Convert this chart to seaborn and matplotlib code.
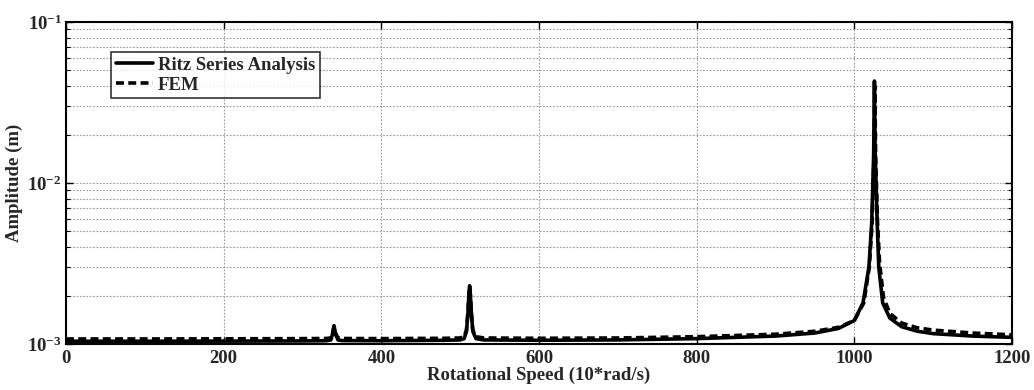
import numpy as np
import pandas as pd
import seaborn as sns
import matplotlib
matplotlib.use("Agg")
import matplotlib.pyplot as plt
from matplotlib.ticker import LogLocator, FixedLocator, NullFormatter

# ---- data ----
ritz_speed = [0, 100, 200, 300, 330, 336, 338, 340, 342, 345, 350, 400, 480, 500, 505,
              508, 510, 511, 512, 513, 514, 516, 520, 530, 600, 700, 800, 850, 900, 950,
              980, 1000, 1011, 1018.5, 1022, 1024.5, 1025.5, 1026.5, 1029, 1031, 1036,
              1045, 1060, 1080, 1100, 1150, 1200]
ritz_amp = [1.040e-3, 1.040e-3, 1.042e-3, 1.045e-3, 1.048e-3, 1.06e-3, 1.15e-3, 1.30e-3, 1.15e-3, 1.06e-3, 1.05e-3,
            1.048e-3, 1.055e-3, 1.06e-3, 1.08e-3,
            1.2e-3, 1.6e-3, 2.0e-3, 2.3e-3, 2.0e-3, 1.6e-3, 1.2e-3, 1.08e-3, 1.06e-3, 1.055e-3, 1.06e-3, 1.08e-3, 1.10e-3, 1.12e-3, 1.17e-3,
            1.25e-3, 1.40e-3, 1.8e-3, 3.0e-3, 5.6e-3, 1.5e-2, 4.3e-2, 1.5e-2, 5.6e-3, 3.0e-3, 1.8e-3,
            1.45e-3, 1.28e-3, 1.20e-3, 1.16e-3, 1.12e-3, 1.10e-3]

fem_speed = [0, 100, 200, 300, 330, 336, 338, 340, 342, 345, 350, 400, 480, 500, 505,
             508, 510, 511, 512, 513, 514, 516, 520, 530, 600, 700, 800, 850, 900, 950,
             980, 1000, 1012, 1019, 1022.5, 1025, 1026, 1027, 1029.5, 1032, 1037,
             1045, 1060, 1080, 1100, 1150, 1200]
fem_amp = [1.075e-3, 1.075e-3, 1.077e-3, 1.08e-3, 1.082e-3, 1.09e-3, 1.16e-3, 1.28e-3, 1.16e-3, 1.09e-3, 1.082e-3,
           1.08e-3, 1.085e-3, 1.09e-3, 1.11e-3,
           1.22e-3, 1.6e-3, 2.0e-3, 2.25e-3, 2.0e-3, 1.6e-3, 1.22e-3, 1.11e-3, 1.09e-3, 1.085e-3, 1.09e-3, 1.11e-3, 1.13e-3, 1.15e-3, 1.20e-3,
           1.27e-3, 1.40e-3, 1.8e-3, 3.0e-3, 5.6e-3, 1.5e-2, 4.0e-2, 1.5e-2, 5.6e-3, 3.2e-3, 1.95e-3,
           1.55e-3, 1.35e-3, 1.26e-3, 1.22e-3, 1.17e-3, 1.14e-3]

series_names = ["Ritz Series Analysis", "FEM"]
x_ticks = [0, 200, 400, 600, 800, 1000, 1200]

# ---- style ----
sns.set_theme(style="white")
plt.rcParams['font.family'] = ['Liberation Serif', 'DejaVu Serif']
plt.rcParams['font.weight'] = 'bold'
plt.rcParams['mathtext.fontset'] = 'custom'
plt.rcParams['mathtext.rm'] = 'Liberation Serif:bold'
plt.rcParams['mathtext.bf'] = 'Liberation Serif:bold'
plt.rcParams['mathtext.it'] = 'Liberation Serif:bold'
plt.rcParams['mathtext.default'] = 'bf'

FS = 13.5

df = pd.concat([
    pd.DataFrame({"speed": ritz_speed, "amp": ritz_amp, "series": series_names[0]}),
    pd.DataFrame({"speed": fem_speed, "amp": fem_amp, "series": series_names[1]}),
])

fig = plt.figure(figsize=(10.34, 3.90), dpi=100)
ax = fig.add_axes([66/1034, 1-344/390, (1012-66)/1034, (344-22)/390])

sns.lineplot(data=df, x="speed", y="amp", style="series", style_order=series_names,
             dashes={series_names[0]: "", series_names[1]: (2.2, 1.2)},
             color="black", linewidth=2.6, ax=ax, legend=True, sort=False,
             estimator=None)

ax.set_yscale("log")
ax.set_xlim(0, 1200)
ax.set_ylim(1e-3, 1e-1)
ax.xaxis.set_major_locator(FixedLocator(x_ticks))
ax.yaxis.set_major_locator(LogLocator(base=10, numticks=10))
ax.yaxis.set_minor_locator(LogLocator(base=10, subs=np.arange(2, 10), numticks=20))
ax.yaxis.set_minor_formatter(NullFormatter())

ax.grid(True, which="major", axis="both", color="#999999", linestyle=(0, (1.5, 1.5)), linewidth=0.8)
ax.grid(True, which="minor", axis="y", color="#999999", linestyle=(0, (1.5, 1.5)), linewidth=0.8)

ax.tick_params(axis="both", which="both", direction="in", top=True, right=True,
               left=True, bottom=True, color="black")
ax.tick_params(axis="both", which="major", length=5, width=1, labelsize=FS)
ax.tick_params(axis="x", which="major", pad=4)
ax.tick_params(axis="y", which="major", pad=3)
ax.tick_params(axis="y", which="minor", length=3, width=0.8)
for lbl in ax.get_xticklabels() + ax.get_yticklabels():
    lbl.set_fontweight("bold")

for s in ax.spines.values():
    s.set_color("black")
    s.set_linewidth(1.5)
    s.set_visible(True)

ax.set_xlabel("Rotational Speed (10*rad/s)", fontsize=FS, fontweight="bold", labelpad=0)
ax.set_ylabel("Amplitude (m)", fontsize=FS, fontweight="bold", labelpad=3)

leg = ax.legend(title=None, loc="upper left", bbox_to_anchor=(45/946, 1-30/322),
                frameon=True, fancybox=False, edgecolor="black", fontsize=FS,
                handlelength=2.0, handletextpad=0.25, borderpad=0.25, labelspacing=0.15,
                borderaxespad=0)
leg.get_frame().set_linewidth(1.2)
for t in leg.get_texts():
    t.set_fontweight("bold")
for h in leg.get_lines():
    h.set_linewidth(2.6)
    h.set_color("black")

fig.savefig("out.png", dpi=100)
